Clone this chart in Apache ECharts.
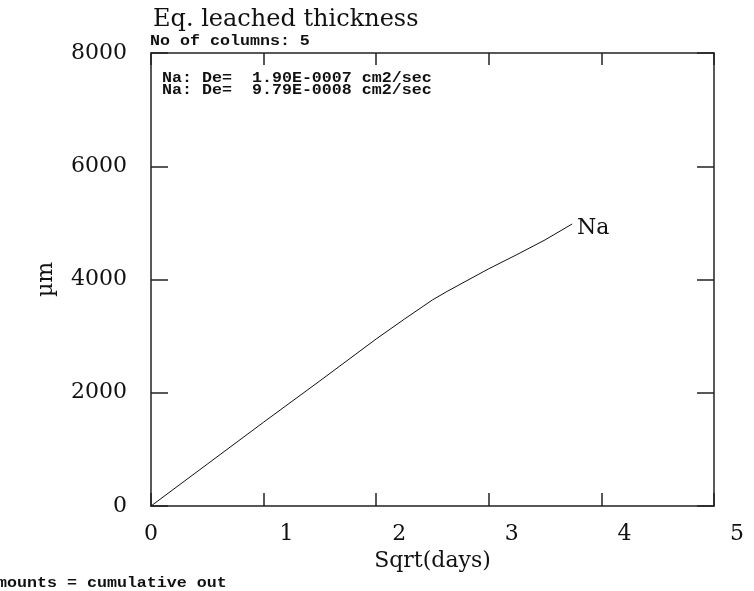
<!DOCTYPE html>
<html>
<head>
<meta charset="utf-8">
<script src="https://cdn.jsdelivr.net/npm/echarts@6/dist/echarts.min.js"></script>
<style>
  html, body { margin: 0; padding: 0; background: #fff; }
  #main { width: 754px; height: 591px; }
</style>
</head>
<body>
<div id="main"></div>
<script type="text/javascript">
	// values: sqrt(days) vs eq. leached thickness (µm)
	var sqrtDays = [0, 0.5, 1.0, 1.5, 2.0, 2.25, 2.5, 2.63, 3.0, 3.25, 3.5, 3.74];
	var thickness = [0, 740, 1480, 2210, 2950, 3300, 3640, 3790, 4190, 4440, 4700, 4980];
	var seriesName = 'Na';
	var xTicks = [0, 1, 2, 3, 4, 5];
	var yTicks = [0, 2000, 4000, 6000, 8000];
	var deLines = ['Na: De=  1.90E-0007 cm2/sec', 'Na: De=  9.79E-0008 cm2/sec'];

	var serif = '"DejaVu Serif", "Liberation Serif", serif';
	var mono = 'bold 15px "Liberation Mono", "DejaVu Sans Mono", monospace';
	var ink = '#222';

	var myChart = echarts.init(document.getElementById('main'));

	var points = sqrtDays.map(function (x, i) { return [x, thickness[i]]; });

	// fixed-pitch notes, stretched a bit to get the wide cells of the original
	function monoText(str, x, y) {
		return {
			type: 'text', x: x, y: y, scaleX: 1.11,
			style: { text: str, font: mono, fill: '#111', verticalAlign: 'middle' }
		};
	}

	var frameLine = { show: true, onZero: false, lineStyle: { color: ink, width: 1.5 } };

	myChart.setOption({
		animation: false,
		backgroundColor: '#fff',
		title: {
			text: 'Eq. leached thickness',
			left: 148, top: 3,
			textStyle: { fontFamily: serif, fontSize: 24, fontWeight: 'normal', color: '#111' }
		},
		grid: { left: 151, right: 40, top: 53, bottom: 85 },
		xAxis: [{
			type: 'value', min: xTicks[0], max: xTicks[xTicks.length - 1], interval: 1,
			name: 'Sqrt(days)', nameLocation: 'middle', nameGap: 41,
			nameTextStyle: { fontFamily: serif, fontSize: 22, color: '#111' },
			axisLine: frameLine,
			axisTick: { inside: true, length: 13, lineStyle: { color: ink, width: 1.5 } },
			splitLine: { show: false },
			axisLabel: {
				margin: 17,
				formatter: function (v) { return v === 0 ? '{z|0}' : '{s|' + v + '}'; },
				rich: {
					z: { fontFamily: serif, fontSize: 22, color: '#111' },
					s: { fontFamily: serif, fontSize: 22, color: '#111', padding: [0, 0, 0, 46] }
				}
			}
		}, {
			type: 'value', position: 'top', min: 0, max: 5, interval: 1,
			axisLine: frameLine,
			axisTick: { inside: true, length: 12, lineStyle: { color: ink, width: 1.5 } },
			axisLabel: { show: false },
			splitLine: { show: false }
		}],
		yAxis: [{
			type: 'value', min: yTicks[0], max: yTicks[yTicks.length - 1], interval: 2000,
			name: 'µm', nameLocation: 'middle', nameGap: 94,
			nameTextStyle: { fontFamily: serif, fontSize: 22, color: '#111' },
			axisLine: frameLine,
			axisTick: { show: true, inside: true, length: 17, lineStyle: { color: ink, width: 1.5 } },
			splitLine: { show: false },
			axisLabel: {
				margin: 24, fontFamily: serif, fontSize: 22, color: '#111',
				formatter: function (v) { return String(v); }
			}
		}, {
			type: 'value', position: 'right', min: 0, max: 8000, interval: 2000,
			axisLine: frameLine,
			axisTick: { show: true, inside: true, length: 17, lineStyle: { color: ink, width: 1.5 } },
			axisLabel: { show: false },
			splitLine: { show: false }
		}],
		series: [{
			name: seriesName,
			type: 'line',
			data: points,
			showSymbol: false,
			lineStyle: { color: '#111', width: 1 },
			endLabel: {
				show: true,
				formatter: seriesName,
				fontFamily: serif, fontSize: 22, color: '#111',
				distance: 5, offset: [0, 4]
			}
		}],
		graphic: [
			monoText('No of columns: 5', 150, 41),
			monoText(deLines[0], 162, 78.5),
			monoText(deLines[1], 162, 90.5),
			monoText('amounts = cumulative out', -13, 583)
		]
	});
</script>
</body>
</html>
